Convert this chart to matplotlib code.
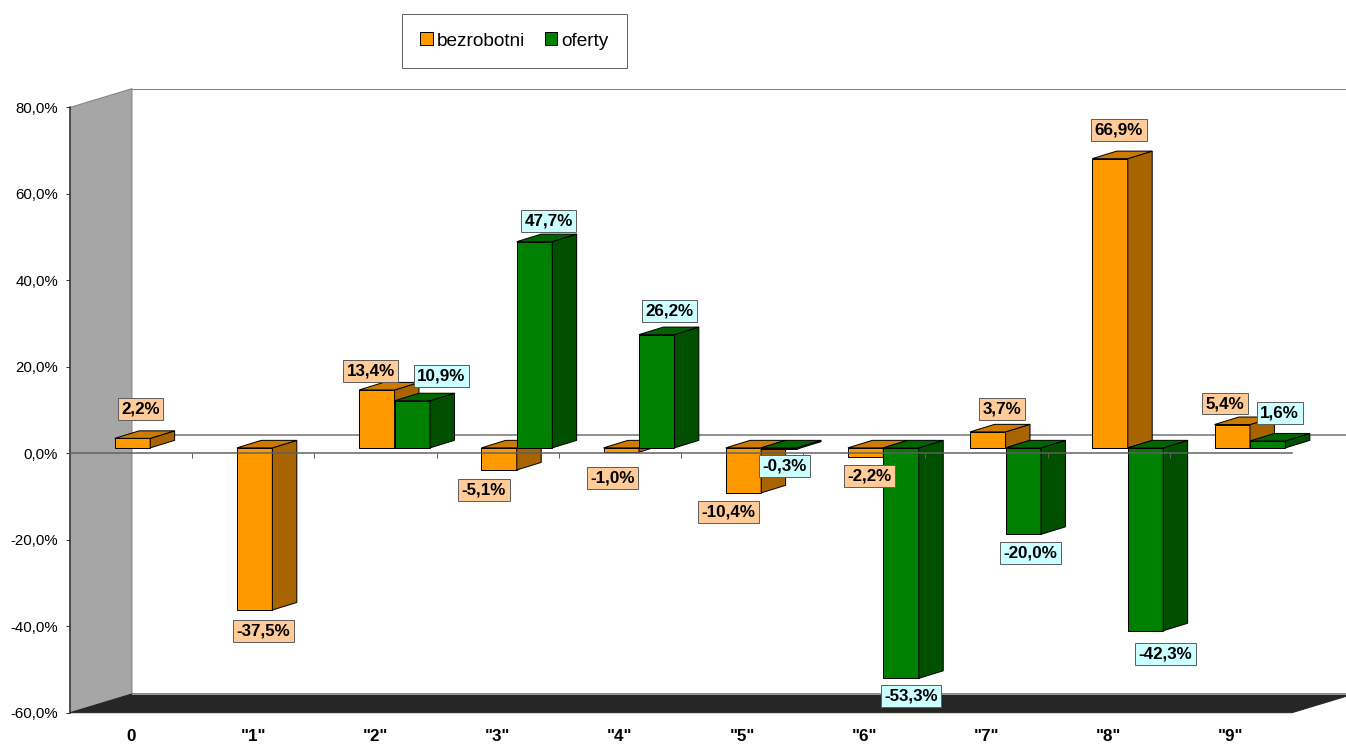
import numpy as np
import matplotlib.pyplot as plt
from matplotlib.patches import Polygon, Rectangle, Patch

plt.rcParams['font.family'] = ['Liberation Sans', 'DejaVu Sans']

categories = ['0', '"1"', '"2"', '"3"', '"4"', '"5"', '"6"', '"7"', '"8"', '"9"']
bezrobotni = [2.2, -37.5, 13.4, -5.1, -1.0, -10.4, -2.2, 3.7, 66.9, 5.4]
oferty = [np.nan, np.nan, 10.9, 47.7, 26.2, -0.3, -53.3, -20.0, -42.3, 1.6]

# hand placed label nudges (px) as in the original
o_dx = [8, 9, -6, -15, -9, -15, 4, 14, 9, -7]
o_dy = [29, -21, 19, -20, -26, -19, -19, 23, 29, 21]
g_dx = [0, 0, 29, 14, 13, 6, 10, 7, 20, 12]
g_dy = [0, 0, 25, 21, 24, -17, -18, -19, -23, 28]

# fake 3d geometry, in data units (1 cat = 122.2 px, 1% = 4.32 px)
wall_dx, wall_dy = 0.507, 4.33
plane_dx, plane_dy = 0.156, 1.25
depth_dx, depth_dy = 0.2, 1.74
bar_w = 0.29

colors = {
    'o': ('#FF9900', '#A86400', '#CC7A00', '#FFCC99'),
    'g': ('#008000', '#005000', '#006400', '#CCFFFF'),
}

fig = plt.figure(figsize=(1346 / 72, 744 / 72), dpi=72)
ax = fig.add_axes([70 / 1346, 1 - 712.7 / 744, 1222 / 1346, (712.7 - 107.4) / 744])
ax.set_xlim(-0.5, 9.5)
ax.set_ylim(-60, 80)
ax.set_facecolor('none')

# walls and floor
ax.add_patch(Polygon([(-0.5, 80), (-0.5 + wall_dx, 80 + wall_dy), (-0.5 + wall_dx, -60 + wall_dy), (-0.5, -60)],
                     closed=True, fc='#A6A6A6', ec='#808080', lw=1, clip_on=False, zorder=1))
ax.add_patch(Polygon([(-0.5, -60), (-0.5 + wall_dx, -60 + wall_dy), (9.5 + wall_dx, -60 + wall_dy), (9.5, -60)],
                     closed=True, fc='#262626', ec='#262626', lw=1, clip_on=False, zorder=1))
ax.plot([-0.5 + wall_dx, 9.5 + wall_dx], [-60 + wall_dy, -60 + wall_dy], color='#9a9a9a', lw=1, clip_on=False, zorder=1.2)
ax.plot([-0.5 + wall_dx, 9.5 + wall_dx], [80 + wall_dy, 80 + wall_dy], color='#808080', lw=1, clip_on=False, zorder=1)
ax.plot([-0.5 + wall_dx, 9.5 + wall_dx], [wall_dy, wall_dy], color='#707070', lw=1.5, clip_on=False, zorder=1.5)


def bar3d(x0, v, key, z):
    front, side, top, _ = colors[key]
    x1 = x0 + bar_w
    lo = plane_dy + min(0, v)
    hi = plane_dy + max(0, v)
    ax.add_patch(Rectangle((x0, lo), bar_w, hi - lo, fc=front, ec='black', lw=1, zorder=z, clip_on=False))
    ax.add_patch(Polygon([(x1, lo), (x1 + depth_dx, lo + depth_dy), (x1 + depth_dx, hi + depth_dy), (x1, hi)],
                         closed=True, fc=side, ec='black', lw=1, zorder=z, clip_on=False))
    ax.add_patch(Polygon([(x0, hi), (x1, hi), (x1 + depth_dx, hi + depth_dy), (x0 + depth_dx, hi + depth_dy)],
                         closed=True, fc=top, ec='black', lw=1, zorder=z, clip_on=False))


def label(xc, v, dx, dy, key):
    y = plane_dy + v
    txt = f"{v:.1f}%".replace('.', ',')
    ax.annotate(txt, xy=(xc, y), xytext=(dx, dy), textcoords='offset points',
                ha='center', va='center', fontsize=17, fontweight='bold', color='black',
                bbox=dict(boxstyle='square,pad=0.2', fc=colors[key][3], ec='#606060', lw=1),
                zorder=10, annotation_clip=False)


for i in range(len(categories)):
    z = 2 + i * 0.1
    xo = i + plane_dx - bar_w
    bar3d(xo, bezrobotni[i], 'o', z)
    xg = i + plane_dx
    if not np.isnan(oferty[i]):
        bar3d(xg, oferty[i], 'g', z + 0.05)

for i in range(len(categories)):
    label(i + plane_dx - bar_w / 2, bezrobotni[i], o_dx[i], o_dy[i], 'o')
    if not np.isnan(oferty[i]):
        label(i + plane_dx + bar_w / 2, oferty[i], g_dx[i], g_dy[i], 'g')

# front zero line with category ticks
ax.plot([-0.5, 9.5], [0, 0], color='#606060', lw=1.5, zorder=5, clip_on=False)
ax.vlines(np.arange(0.5, 10, 1), -1.0, 0, color='#606060', lw=1, zorder=5)

for s in ['top', 'right', 'bottom']:
    ax.spines[s].set_visible(False)
ax.spines['left'].set_color('#333333')
ax.spines['left'].set_linewidth(1.5)
ax.spines['left'].set_zorder(3)

ax.set_yticks(range(-60, 81, 20))
ax.set_yticklabels([f"{v:.1f}%".replace('.', ',') for v in range(-60, 81, 20)])
ax.tick_params(axis='y', length=4, width=1, color='#333333', labelsize=15, pad=8)
ax.set_xticks(range(len(categories)))
ax.set_xticklabels(categories, fontsize=17, fontweight='bold')
ax.tick_params(axis='x', length=0, pad=16)

handles = [Patch(fc='#FF9900', ec='black', lw=1), Patch(fc='#008000', ec='black', lw=1)]
leg = fig.legend(handles, ['bezrobotni', 'oferty'], loc='center', bbox_to_anchor=(514.5 / 1346, 1 - 41 / 744),
                 ncol=2, fontsize=19, frameon=True, fancybox=False, handlelength=0.65, handleheight=0.65,
                 handletextpad=0.25, columnspacing=1.0, borderpad=0.95)
leg.get_frame().set_edgecolor('#404040')
leg.get_frame().set_linewidth(1)

fig.savefig('out.png', dpi=72)
